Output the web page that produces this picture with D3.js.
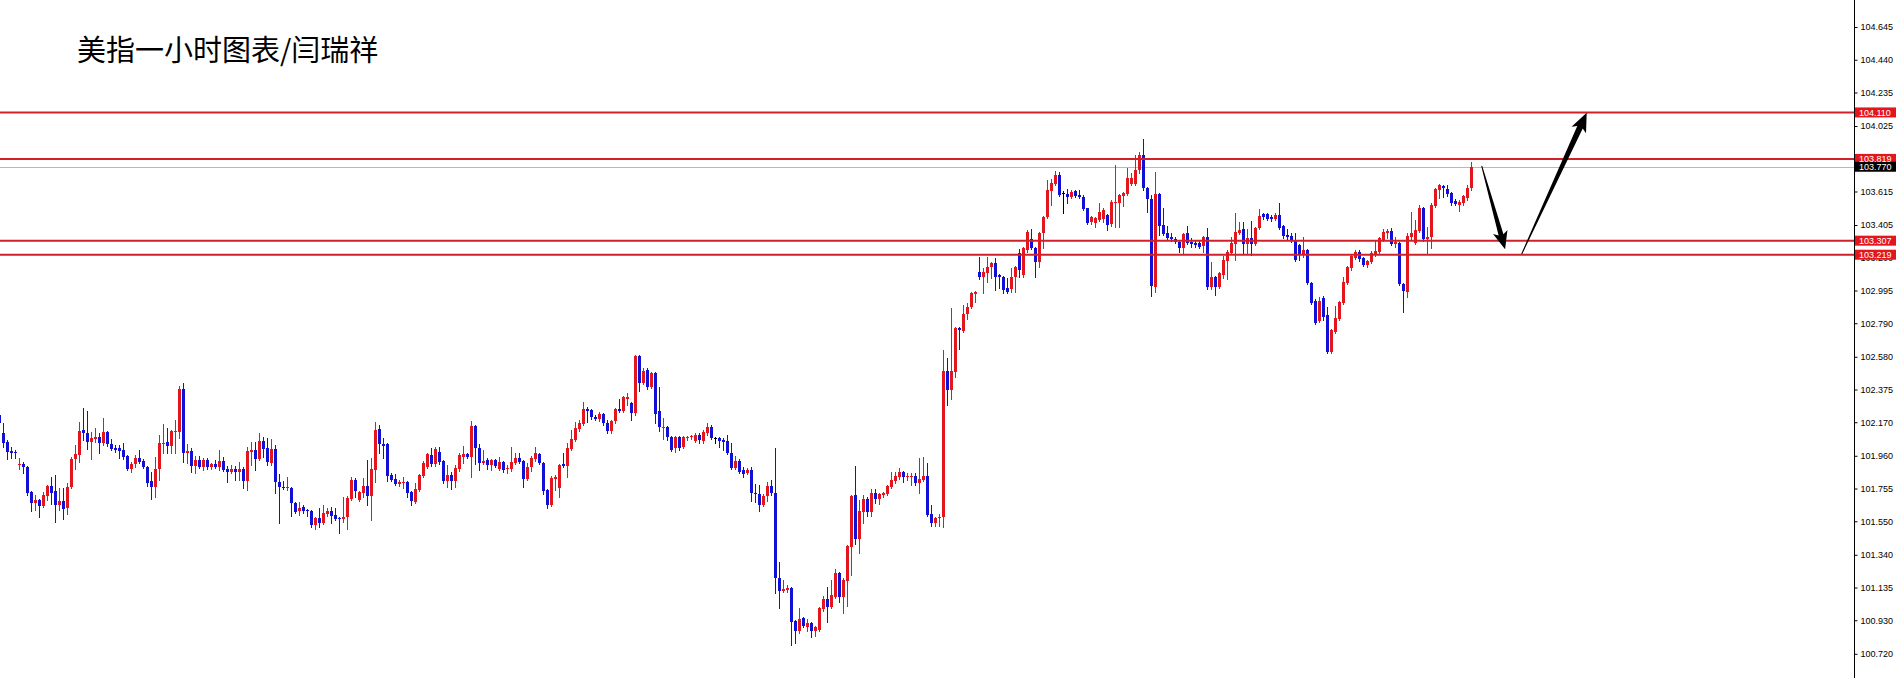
<!DOCTYPE html>
<html><head><meta charset="utf-8">
<script src="https://cdn.jsdelivr.net/npm/d3@7"></script>
<style>html,body{margin:0;padding:0;background:#fff;overflow:hidden;} svg{display:block;}</style>
</head><body>
<svg id="chart" width="1902" height="678"></svg>
<script>
const title = "美指一小时图表/闫瑞祥";
const opens = [
102.216,102.103,102.046,101.990,101.983,101.903,101.909,101.890,101.733,101.664,
101.683,101.646,101.708,101.771,101.740,101.652,101.677,101.633,101.765,101.940,
101.965,102.122,102.103,102.046,102.065,102.078,102.040,102.109,102.034,102.009,
102.009,101.996,101.959,101.877,101.909,101.946,101.928,101.890,101.802,101.765,
101.877,102.034,102.046,102.021,102.109,102.109,102.378,101.977,101.990,101.896,
101.934,101.890,101.934,101.890,101.909,101.890,101.928,101.877,101.858,101.877,
101.858,101.877,101.802,101.983,101.996,101.940,102.053,102.009,101.915,102.003,
101.796,101.765,101.758,101.758,101.664,101.615,101.640,101.621,101.615,101.527,
101.571,101.539,101.596,101.615,101.589,101.571,101.564,101.577,101.689,101.808,
101.683,101.727,101.771,101.708,101.871,102.128,102.034,102.034,101.840,101.815,
101.783,101.790,101.796,101.733,101.671,101.746,101.833,101.890,101.965,101.909,
101.983,101.928,101.802,101.840,101.802,101.877,101.952,101.971,101.952,102.147,
102.009,101.915,101.934,101.903,101.934,101.877,101.921,101.877,101.877,101.915,
101.946,101.928,101.815,101.890,101.940,101.971,101.915,101.746,101.652,101.815,
101.758,101.909,101.896,102.003,102.059,102.128,102.159,102.253,102.247,102.203,
102.190,102.222,102.165,102.115,102.178,102.253,102.240,102.316,102.291,102.228,
102.585,102.416,102.497,102.391,102.479,102.240,102.134,102.140,102.078,102.009,
102.078,102.015,102.071,102.078,102.053,102.090,102.053,102.103,102.140,102.071,
102.071,102.059,102.053,101.977,101.884,101.928,101.871,101.852,101.871,101.727,
101.721,101.652,101.708,101.771,101.727,101.195,101.113,101.120,101.132,100.926,
100.863,100.944,100.888,100.913,100.863,100.869,101.001,101.063,101.013,101.076,
101.226,101.076,101.176,101.389,101.715,101.439,101.608,101.689,101.608,101.727,
101.689,101.715,101.721,101.765,101.802,101.827,101.858,101.827,101.827,101.833,
101.790,101.808,101.833,101.596,101.539,101.571,101.577,102.491,102.372,102.485,
102.760,102.741,102.848,102.892,102.973,103.111,103.080,103.105,103.142,103.167,
103.092,103.080,103.011,103.005,103.080,103.232,103.092,103.249,103.317,103.261,
103.174,103.355,103.455,103.618,103.662,103.718,103.606,103.599,103.581,103.618,
103.593,103.581,103.512,103.424,103.418,103.436,103.443,103.468,103.411,103.543,
103.543,103.587,103.599,103.662,103.662,103.750,103.843,103.637,103.568,103.017,
103.599,103.405,103.355,103.330,103.317,103.299,103.261,103.355,103.299,103.292,
103.292,103.274,103.330,103.017,103.080,103.017,103.092,103.180,103.230,103.286,
103.355,103.380,103.286,103.324,103.286,103.386,103.474,103.474,103.455,103.443,
103.468,103.399,103.343,103.336,103.305,103.280,103.217,103.249,103.042,102.929,
102.804,102.948,102.842,102.610,102.735,102.817,102.917,103.042,103.136,103.199,
103.236,103.199,103.155,103.174,103.224,103.236,103.311,103.355,103.367,103.286,
103.292,103.036,102.986,103.330,103.292,103.367,103.512,103.317,103.330,103.524,
103.624,103.649,103.631,103.606,103.556,103.531,103.543,103.574,103.637];
const highs = [
102.228,102.165,102.059,102.015,101.996,101.946,101.921,101.896,101.740,101.715,
101.689,101.733,101.777,101.827,101.840,101.758,101.758,101.790,101.952,102.028,
102.172,102.259,102.240,102.109,102.134,102.103,102.197,102.115,102.065,102.028,
102.028,102.040,101.965,101.921,101.965,101.996,101.940,101.896,101.858,101.952,
102.090,102.159,102.134,102.122,102.184,102.397,102.416,102.034,102.009,101.959,
101.959,101.946,101.946,101.915,101.934,101.996,101.952,101.896,101.903,101.896,
101.921,101.890,102.015,102.046,102.046,102.103,102.078,102.071,102.065,102.028,
101.846,101.802,101.827,101.765,101.671,101.671,101.652,101.627,101.621,101.577,
101.633,101.652,101.633,101.640,101.633,101.577,101.702,101.708,101.827,101.821,
101.740,101.821,101.934,101.946,102.172,102.153,102.071,102.040,101.852,101.846,
101.808,101.827,101.802,101.740,101.790,101.846,101.928,101.977,102.009,102.015,
102.015,101.934,101.903,101.858,101.903,101.977,102.021,101.977,102.178,102.153,
102.034,101.996,101.946,101.940,101.940,101.952,101.928,101.903,102.015,101.977,
101.977,101.934,101.915,101.959,102.015,101.977,101.921,101.752,101.833,101.840,
101.909,101.977,102.040,102.122,102.172,102.184,102.297,102.265,102.253,102.216,
102.234,102.228,102.184,102.184,102.259,102.316,102.334,102.353,102.297,102.591,
102.591,102.510,102.510,102.485,102.485,102.391,102.197,102.147,102.084,102.084,
102.084,102.084,102.084,102.090,102.103,102.103,102.122,102.165,102.153,102.078,
102.078,102.071,102.090,102.040,101.959,101.940,101.890,101.884,101.890,101.783,
101.777,101.721,101.796,101.808,102.009,101.295,101.182,101.151,101.138,100.932,
101.007,100.951,100.938,100.919,100.894,101.013,101.082,101.138,101.182,101.251,
101.232,101.195,101.402,101.715,101.896,101.683,101.715,101.702,101.752,101.752,
101.727,101.733,101.777,101.858,101.858,101.884,101.865,101.852,101.852,101.852,
101.946,101.952,101.915,101.652,101.577,101.596,102.622,102.572,102.886,102.767,
102.767,102.904,102.917,102.986,102.992,103.205,103.136,103.205,103.174,103.199,
103.098,103.086,103.073,103.136,103.148,103.255,103.268,103.374,103.380,103.268,
103.361,103.461,103.687,103.693,103.743,103.737,103.618,103.631,103.624,103.624,
103.624,103.593,103.512,103.461,103.455,103.543,103.512,103.474,103.562,103.781,
103.599,103.612,103.762,103.731,103.843,103.862,103.944,103.643,103.593,103.737,
103.606,103.512,103.399,103.355,103.330,103.305,103.355,103.399,103.324,103.305,
103.305,103.336,103.386,103.174,103.086,103.111,103.211,103.249,103.330,103.480,
103.424,103.424,103.380,103.430,103.393,103.505,103.480,103.480,103.468,103.480,
103.543,103.405,103.380,103.355,103.355,103.286,103.330,103.255,103.048,102.942,
102.954,102.961,102.892,102.754,102.898,102.929,103.080,103.148,103.217,103.249,
103.249,103.205,103.186,103.242,103.311,103.330,103.380,103.380,103.386,103.330,
103.299,103.042,103.355,103.487,103.436,103.531,103.518,103.393,103.543,103.637,
103.662,103.656,103.656,103.612,103.568,103.562,103.593,103.656,103.799];
const lows = [
102.153,102.015,101.940,101.946,101.946,101.877,101.852,101.715,101.615,101.621,
101.577,101.640,101.683,101.658,101.545,101.621,101.564,101.596,101.758,101.877,
101.921,102.059,102.003,101.940,102.046,101.977,102.028,102.021,101.996,101.983,
101.946,101.940,101.871,101.858,101.890,101.915,101.884,101.771,101.689,101.702,
101.808,101.977,101.977,101.977,101.977,102.071,101.921,101.915,101.858,101.852,
101.884,101.871,101.877,101.877,101.884,101.871,101.865,101.796,101.852,101.808,
101.808,101.758,101.746,101.903,101.871,101.934,101.952,101.903,101.903,101.727,
101.539,101.752,101.746,101.583,101.602,101.589,101.602,101.583,101.514,101.502,
101.514,101.533,101.583,101.539,101.558,101.477,101.545,101.502,101.683,101.702,
101.677,101.702,101.652,101.558,101.796,101.977,101.946,101.802,101.802,101.777,
101.771,101.758,101.702,101.652,101.664,101.740,101.827,101.884,101.896,101.896,
101.909,101.790,101.765,101.752,101.765,101.865,101.915,101.946,101.827,101.909,
101.871,101.909,101.877,101.871,101.890,101.871,101.858,101.852,101.865,101.909,
101.915,101.765,101.808,101.865,101.928,101.909,101.721,101.633,101.646,101.746,
101.702,101.890,101.827,101.996,102.053,102.115,102.153,102.172,102.190,102.184,
102.178,102.153,102.103,102.103,102.165,102.234,102.234,102.278,102.184,102.216,
102.366,102.410,102.378,102.385,102.165,102.115,102.065,102.059,101.990,101.983,
101.996,102.009,102.059,102.065,102.046,102.040,102.040,102.090,102.065,102.040,
102.015,101.996,101.971,101.877,101.877,101.852,101.827,101.846,101.677,101.671,
101.615,101.646,101.677,101.715,101.101,101.007,101.107,101.107,100.775,100.788,
100.851,100.888,100.863,100.825,100.832,100.863,100.988,100.919,101.007,101.070,
101.044,100.976,101.019,101.213,101.408,101.351,101.539,101.583,101.583,101.664,
101.658,101.702,101.715,101.758,101.790,101.815,101.796,101.808,101.777,101.777,
101.727,101.802,101.583,101.520,101.520,101.520,101.514,102.278,102.316,102.453,
102.629,102.735,102.817,102.886,102.923,103.067,102.979,103.048,103.073,102.998,
103.011,102.979,102.979,102.986,102.986,103.080,103.080,103.236,103.255,103.080,
103.142,103.261,103.449,103.531,103.656,103.587,103.480,103.543,103.574,103.581,
103.574,103.499,103.411,103.411,103.393,103.430,103.424,103.374,103.399,103.393,
103.393,103.524,103.593,103.656,103.656,103.731,103.624,103.487,102.961,102.986,
103.343,103.343,103.317,103.305,103.292,103.236,103.230,103.286,103.267,103.267,
103.261,103.236,103.005,103.005,102.967,103.011,103.073,103.067,103.224,103.186,
103.349,103.230,103.230,103.217,103.280,103.380,103.443,103.436,103.430,103.436,
103.380,103.324,103.311,103.299,103.180,103.186,103.205,103.036,102.911,102.785,
102.798,102.810,102.603,102.603,102.729,102.810,102.911,103.036,103.123,103.192,
103.180,103.148,103.142,103.167,103.211,103.230,103.305,103.324,103.280,103.267,
103.029,102.860,102.954,103.317,103.286,103.361,103.305,103.230,103.261,103.518,
103.574,103.581,103.587,103.531,103.531,103.493,103.531,103.562,103.624];
const closes = [
102.165,102.040,101.983,101.977,101.977,101.909,101.890,101.727,101.664,101.683,
101.646,101.715,101.771,101.727,101.652,101.677,101.627,101.765,101.940,101.971,
102.115,102.103,102.046,102.071,102.078,102.040,102.109,102.034,102.003,101.996,
101.990,101.952,101.877,101.909,101.946,101.921,101.890,101.790,101.765,101.877,
102.040,102.040,102.021,102.115,102.115,102.378,101.977,101.990,101.896,101.934,
101.890,101.934,101.890,101.909,101.890,101.928,101.871,101.858,101.877,101.858,
101.877,101.802,101.990,101.996,101.940,102.053,102.003,101.921,102.003,101.796,
101.765,101.758,101.765,101.664,101.608,101.633,101.615,101.615,101.527,101.571,
101.539,101.602,101.615,101.583,101.564,101.564,101.577,101.696,101.808,101.740,
101.733,101.771,101.708,101.877,102.122,102.034,102.021,101.833,101.808,101.783,
101.796,101.796,101.727,101.677,101.752,101.840,101.915,101.971,101.909,102.003,
101.921,101.802,101.840,101.802,101.884,101.965,101.971,101.952,102.147,102.009,
101.915,101.928,101.903,101.934,101.896,101.921,101.871,101.884,101.921,101.946,
101.921,101.815,101.890,101.946,101.977,101.915,101.740,101.652,101.821,101.827,
101.903,101.896,102.009,102.065,102.134,102.165,102.253,102.240,102.203,102.190,
102.222,102.165,102.115,102.178,102.253,102.240,102.328,102.328,102.228,102.585,
102.416,102.491,102.391,102.479,102.222,102.140,102.140,102.078,101.996,102.078,
102.009,102.078,102.078,102.084,102.090,102.059,102.109,102.140,102.071,102.071,
102.053,102.046,101.977,101.884,101.928,101.858,101.846,101.871,101.727,101.721,
101.652,101.708,101.771,101.727,101.195,101.113,101.126,101.132,100.919,100.863,
100.938,100.894,100.913,100.863,100.888,101.007,101.063,101.013,101.088,101.226,
101.076,101.182,101.395,101.708,101.439,101.615,101.689,101.608,101.727,101.689,
101.721,101.727,101.771,101.808,101.833,101.858,101.827,101.833,101.833,101.790,
101.815,101.833,101.589,101.539,101.571,101.577,102.491,102.372,102.491,102.760,
102.748,102.848,102.892,102.979,102.986,103.080,103.111,103.142,103.167,103.080,
103.080,102.998,102.986,103.080,103.142,103.123,103.261,103.361,103.261,103.174,
103.355,103.455,103.624,103.668,103.718,103.593,103.606,103.581,103.612,103.587,
103.581,103.505,103.418,103.455,103.449,103.487,103.499,103.405,103.549,103.549,
103.593,103.606,103.699,103.699,103.750,103.843,103.637,103.568,103.023,103.599,
103.399,103.349,103.324,103.317,103.299,103.261,103.349,103.292,103.286,103.280,
103.267,103.330,103.017,103.080,103.017,103.105,103.186,103.236,103.292,103.361,
103.374,103.286,103.324,103.286,103.386,103.461,103.455,103.443,103.443,103.468,
103.386,103.336,103.330,103.311,103.186,103.224,103.249,103.042,102.917,102.792,
102.929,102.829,102.610,102.748,102.823,102.923,103.048,103.142,103.211,103.236,
103.192,103.155,103.180,103.230,103.242,103.324,103.361,103.367,103.286,103.299,
103.036,102.992,103.336,103.355,103.374,103.512,103.317,103.330,103.531,103.631,
103.656,103.637,103.599,103.543,103.537,103.549,103.587,103.637,103.768];
const tickLabels = ["104.645","104.440","104.235","104.025","103.820","103.615","103.405","103.200","102.995","102.790",
  "102.580","102.375","102.170","101.960","101.755","101.550","101.340","101.135","100.930","100.720"];
const levelPrices = [104.110, 103.819, 103.307, 103.219];
const lastPrice = 103.770;
// arrows: [fromIndex, fromPrice, toIndex, toPrice]
const arrowDown = [370.55, 103.775, 376.4, 103.253];
const arrowUp = [380.55, 103.224, 396.8, 104.108];

const W = 1902, H = 678, axisX = 1854.5;
const RED = "#e3161d", BLUE = "#1010d6", LINE_RED = "#d0202a";
const svg = d3.select("#chart");
svg.append("rect").attr("width", W).attr("height", H).attr("fill", "#fff");

const x = d3.scaleLinear().domain([0, 368]).range([-0.5, 1471.5]);
const y = d3.scaleLinear().domain([100.720, 104.645]).range([653.8, 27]);

// bid line (behind candles)
svg.append("line").attr("x1", 0).attr("x2", axisX - 0.5)
  .attr("y1", Math.round(y(lastPrice)) + 0.5).attr("y2", Math.round(y(lastPrice)) + 0.5)
  .attr("stroke", "#b8b8b8").attr("stroke-width", 1);

const candles = opens.map((o, i) => ({ i, o, h: highs[i], l: lows[i], c: closes[i] }));
const col = d => d.c > d.o ? RED : (d.c < d.o ? BLUE : "#000");
const cg = svg.append("g").attr("shape-rendering", "crispEdges");
cg.selectAll("line").data(candles).join("line")
  .attr("x1", d => x(d.i)).attr("x2", d => x(d.i))
  .attr("y1", d => Math.round(y(d.h))).attr("y2", d => Math.round(y(d.l)) + 1)
  .attr("stroke", col).attr("stroke-width", 1);
cg.selectAll("rect").data(candles).join("rect")
  .attr("x", d => x(d.i) - 1.5).attr("width", 3)
  .attr("y", d => Math.round(y(Math.max(d.o, d.c))))
  .attr("height", d => Math.max(1, Math.round(y(Math.min(d.o, d.c))) - Math.round(y(Math.max(d.o, d.c)))))
  .attr("fill", col);

// level lines
svg.append("g").selectAll("line").data(levelPrices).join("line")
  .attr("x1", 0).attr("x2", axisX - 0.5)
  .attr("y1", d => y(d)).attr("y2", d => y(d))
  .attr("stroke", LINE_RED).attr("stroke-width", 2);

// arrows
function arrowPath(a, w0, w1, hw, hl) {
  const x0 = x(a[0]), y0 = y(a[1]), x1 = x(a[2]), y1 = y(a[3]);
  const dx = x1 - x0, dy = y1 - y0, L = Math.hypot(dx, dy);
  const ux = dx / L, uy = dy / L, px = -uy, py = ux;
  const bx = x1 - ux * hl, by = y1 - uy * hl;
  const bb = 3; // barb sweep
  const pts = [
    [x0 + px * w0 / 2, y0 + py * w0 / 2],
    [bx + px * w1 / 2, by + py * w1 / 2],
    [bx + px * hw / 2 - ux * bb, by + py * hw / 2 - uy * bb],
    [x1, y1],
    [bx - px * hw / 2 - ux * bb, by - py * hw / 2 - uy * bb],
    [bx - px * w1 / 2, by - py * w1 / 2],
    [x0 - px * w0 / 2, y0 - py * w0 / 2]];
  return d3.line()(pts) + "Z";
}
svg.append("path").attr("d", arrowPath(arrowDown, 1, 5, 15, 15)).attr("fill", "#000");
svg.append("path").attr("d", arrowPath(arrowUp, 1, 6, 16, 16)).attr("fill", "#000");

// axis
svg.append("line").attr("x1", axisX).attr("x2", axisX).attr("y1", 0).attr("y2", H)
  .attr("stroke", "#000").attr("stroke-width", 1);
const yAxis = d3.axisRight(y).tickValues(tickLabels.map(Number))
  .tickFormat((d, i) => tickLabels[i]).tickSize(3).tickPadding(3).tickSizeOuter(0);
const ag = svg.append("g").attr("transform", `translate(${axisX},0)`).call(yAxis);
ag.select(".domain").remove();
ag.selectAll(".tick line").attr("stroke", "#000");
ag.selectAll("text").attr("font-family", "'Liberation Sans', Arial, sans-serif")
  .attr("font-size", 9).attr("fill", "#000");

// price labels
const labels = levelPrices.map(v => ({ v, bg: RED })).concat([{ v: lastPrice, bg: "#000" }]);
const lg = svg.append("g");
lg.selectAll("rect").data(labels).join("rect")
  .attr("x", 1855).attr("width", 41).attr("y", d => y(d.v) - 5).attr("height", 10)
  .attr("fill", d => d.bg);
lg.selectAll("text").data(labels).join("text")
  .attr("x", 1859).attr("y", d => y(d.v)).attr("dy", "0.35em")
  .attr("font-family", "'Liberation Sans', Arial, sans-serif").attr("font-size", 9)
  .attr("fill", "#fff").text(d => d3.format(".3f")(d.v));

// title
svg.append("text").attr("x", 77).attr("y", 61)
  .attr("font-family", "'Noto Sans CJK SC', sans-serif").attr("font-size", 29)
  .attr("fill", "#000").text(title);
</script>
</body></html>
